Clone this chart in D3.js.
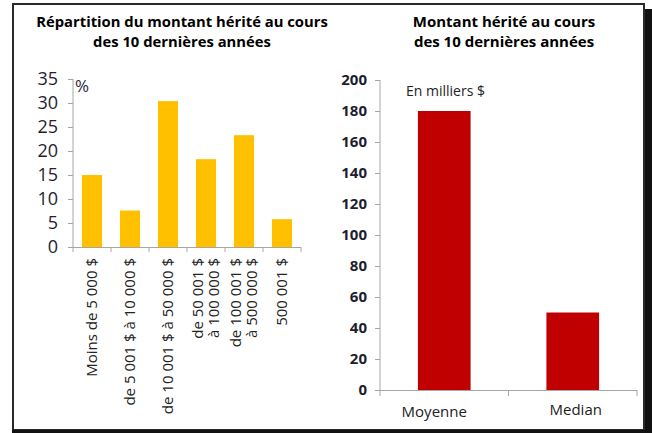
<!DOCTYPE html>
<html>
<head>
<meta charset="utf-8">
<script src="https://cdn.jsdelivr.net/npm/d3@7"></script>
<style>
  body { margin: 0; background: #fff; }
  svg { display: block; font-family: "Open Sans", sans-serif; }
  .axis path, .axis line { stroke: #a6a6a6; }
</style>
</head>
<body>
<svg width="652" height="433"></svg>
<script>
// gauche : répartition en %
const tranches = [
  ["Moins de 5 000 $"],
  ["de 5 001 $ à 10 000 $"],
  ["de 10 001 $ à 50 000 $"],
  ["de 50 001 $", "à 100 000 $"],
  ["de 100 001 $", "à 500 000 $"],
  ["500 001 $"]
];
const pourcentages = [15, 7.6, 30.4, 18.3, 23.3, 5.8];
const ticksPct = [0, 5, 10, 15, 20, 25, 30, 35];

// droite : montant en milliers $
const mesures = ["Moyenne", "Median"];
const montants = [180, 50];
const ticksMontant = [0, 20, 40, 60, 80, 100, 120, 140, 160, 180, 200];

const svg = d3.select("svg");

// cadre + ombre
svg.append("rect").attr("x", 645).attr("y", 9).attr("width", 7).attr("height", 424).attr("fill", "#111");
svg.append("rect").attr("x", 13).attr("y", 4).attr("width", 631).attr("height", 426)
  .attr("fill", "#fff").attr("stroke", "#2a2a2a").attr("stroke-width", 2);
svg.append("line").attr("x1", 12).attr("x2", 652).attr("y1", 431.5).attr("y2", 431.5)
  .attr("stroke", "#111").attr("stroke-width", 3);

// ---- graphique de gauche ----
const x1 = d3.scaleBand().domain(d3.range(tranches.length)).range([73, 301]).paddingInner(0.47).paddingOuter(0.235);
const y1 = d3.scaleLinear().domain([0, 35]).range([247, 79]);

svg.append("g")
  .attr("font-weight", "bold").attr("font-size", 14.8).attr("fill", "#000").attr("text-anchor", "middle")
  .selectAll("text")
  .data(["Répartition du montant hérité au cours", "des 10 dernières années"])
  .join("text")
  .attr("x", 182).attr("y", (d, i) => 27 + i * 20)
  .text((d) => d);

svg.append("g")
  .selectAll("rect")
  .data(pourcentages)
  .join("rect")
  .attr("x", (d, i) => x1(i))
  .attr("width", x1.bandwidth())
  .attr("y", (d) => y1(d))
  .attr("height", (d) => y1(0) - y1(d))
  .attr("fill", "#ffc000");

const axeY1 = svg.append("g")
  .attr("class", "axis")
  .attr("transform", "translate(73,0)")
  .call(d3.axisLeft(y1).tickValues(ticksPct).tickSizeInner(5).tickSizeOuter(5).tickPadding(10));
axeY1.select(".domain").attr("d", "M0,79V247");
axeY1.selectAll("text").attr("font-size", 18).attr("fill", "#1e1e2e").attr("font-family", "Open Sans, sans-serif");

svg.append("text").attr("x", 75).attr("y", 92).attr("font-size", 17).attr("fill", "#2a2a3a").text("%");

// axe x : ticks aux bords des catégories
const bords1 = d3.range(tranches.length + 1).map((i) => 73 + i * (301 - 73) / tranches.length);
const axeX1 = svg.append("g").attr("class", "axis");
axeX1.append("line").attr("x1", 73).attr("x2", 301).attr("y1", 247.5).attr("y2", 247.5);
axeX1.selectAll("line.t").data(bords1).join("line").attr("class", "t")
  .attr("x1", (d) => d).attr("x2", (d) => d).attr("y1", 247).attr("y2", 252);

const lab1 = svg.append("g").attr("font-size", 15).attr("fill", "#222");
tranches.forEach((lignes, i) => {
  const cx = x1(i) + x1.bandwidth() / 2;
  const t = lab1.append("text")
    .attr("transform", `translate(${cx},258) rotate(-90)`)
    .attr("text-anchor", "end");
  lignes.forEach((l, j) => {
    t.append("tspan")
      .attr("x", 0)
      .attr("dy", j === 0 ? (lignes.length === 1 ? 5 : -3) : 16)
      .text(l);
  });
});

// ---- graphique de droite ----
const x2 = d3.scaleBand().domain(mesures).range([380, 637]).paddingInner(0.59).paddingOuter(0.295);
const y2 = d3.scaleLinear().domain([0, 200]).range([390, 80]);

svg.append("g")
  .attr("font-weight", "bold").attr("font-size", 15).attr("fill", "#000").attr("text-anchor", "middle")
  .selectAll("text")
  .data(["Montant hérité au cours", "des 10 dernières années"])
  .join("text")
  .attr("x", 504).attr("y", (d, i) => 27 + i * 20)
  .text((d) => d);

svg.append("g")
  .selectAll("rect")
  .data(montants)
  .join("rect")
  .attr("x", (d, i) => x2(mesures[i]))
  .attr("width", x2.bandwidth())
  .attr("y", (d) => y2(d))
  .attr("height", (d) => y2(0) - y2(d))
  .attr("fill", "#c00000");

const axeY2 = svg.append("g")
  .attr("class", "axis")
  .attr("transform", "translate(380,0)")
  .call(d3.axisLeft(y2).tickValues(ticksMontant).tickSize(5).tickPadding(8));
axeY2.select(".domain").attr("d", "M0,80V390");
axeY2.selectAll("text").attr("font-size", 15).attr("font-weight", "bold").attr("fill", "#1e1e2e").attr("font-family", "Open Sans, sans-serif");

svg.append("text").attr("x", 406).attr("y", 96).attr("font-size", 14).attr("fill", "#222").text("En milliers $");

const axeX2 = svg.append("g").attr("class", "axis");
axeX2.append("line").attr("x1", 380).attr("x2", 637).attr("y1", 390.5).attr("y2", 390.5);
axeX2.selectAll("line.t").data([380, 508.5, 637]).join("line").attr("class", "t")
  .attr("x1", (d) => d).attr("x2", (d) => d).attr("y1", 390).attr("y2", 396);

svg.append("g").attr("font-size", 15).attr("fill", "#222").attr("text-anchor", "middle")
  .selectAll("text")
  .data(mesures)
  .join("text")
  .attr("x", (d) => x2(d) + x2.bandwidth() / 2 + (d === "Moyenne" ? -10 : 3))
  .attr("y", (d) => (d === "Moyenne" ? 417 : 415))
  .text((d) => d);
</script>
</body>
</html>
